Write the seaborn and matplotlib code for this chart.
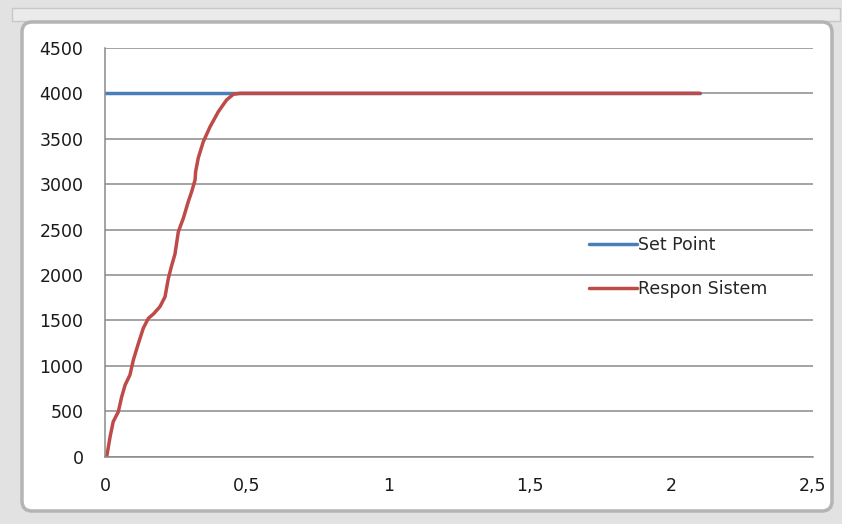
import matplotlib
matplotlib.use("Agg")
import matplotlib.pyplot as plt
from matplotlib.patches import FancyBboxPatch, Rectangle
from matplotlib.lines import Line2D
import pandas as pd
import seaborn as sns

# Step response of the control loop (time in seconds, value in rpm)
resp_time = [0.006, 0.018, 0.029, 0.047, 0.059, 0.071, 0.088, 0.100, 0.118, 0.135,
             0.153, 0.171, 0.194, 0.212, 0.2235, 0.235, 0.247, 0.259, 0.2765, 0.294,
             0.306, 0.318, 0.320, 0.329, 0.347, 0.371, 0.400, 0.429, 0.453, 0.476,
             1.0, 1.5, 2.1]
resp_value = [0, 220, 385, 495, 660, 789, 899, 1064, 1248, 1413,
              1523, 1571, 1651, 1761, 1960, 2100, 2230, 2477, 2624, 2807,
              2917, 3046, 3137, 3285, 3467, 3632, 3797, 3926, 3989, 4000,
              4000, 4000, 4000]

sp_time = [0.0, 2.1]
sp_value = [4000, 4000]

series_names = ["Set Point", "Respon Sistem"]
x_ticks = [0, 0.5, 1, 1.5, 2, 2.5]
x_tick_labels = ["0", "0,5", "1", "1,5", "2", "2,5"]
y_ticks = [0, 500, 1000, 1500, 2000, 2500, 3000, 3500, 4000, 4500]

df = pd.concat([
    pd.DataFrame({"t": sp_time, "v": sp_value, "series": series_names[0]}),
    pd.DataFrame({"t": resp_time, "v": resp_value, "series": series_names[1]}),
], ignore_index=True)

sns.set_style("white")
plt.rcParams["font.family"] = ["DejaVu Sans"]

W, H = 842, 524
fig = plt.figure(figsize=(W / 100, H / 100), dpi=100, facecolor="#e2e2e2")

# chart window frame
fig.patches.append(Rectangle((12 / W, 1 - 21 / H), 828 / W, 13 / H,
                             transform=fig.transFigure, facecolor="#ebebeb",
                             edgecolor="#c8c8c8", lw=1, zorder=-2))
fig.patches.append(FancyBboxPatch((22 / W, 1 - 511 / H), 810 / W, 489 / H,
                                  boxstyle="round,pad=0,rounding_size=0.012",
                                  transform=fig.transFigure, facecolor="white",
                                  edgecolor="#b4b4b4", lw=2.5, mutation_aspect=W / H,
                                  zorder=-1))

ax = fig.add_axes([105 / W, 1 - 456.7 / H, 708 / W, 408.8 / H])
ax.set_facecolor("none")

palette = {"Set Point": "#4a7ebb", "Respon Sistem": "#be4b48"}
sns.lineplot(data=df, x="t", y="v", hue="series", palette=palette,
             linewidth=2.5, ax=ax, sort=False, estimator=None, legend=False,
             solid_joinstyle="round", solid_capstyle="round")

ax.set_xlim(0, 2.5)
ax.set_ylim(0, 4500)
ax.set_xticks(x_ticks)
ax.set_xticklabels(x_tick_labels)
ax.set_yticks(y_ticks)
ax.set_yticklabels([str(v) for v in y_ticks])
ax.set_xlabel("")
ax.set_ylabel("")

ax.grid(axis="y", color="#8a8a8a", lw=1.1)
ax.grid(axis="x", visible=False)
ax.set_axisbelow(True)
for side in ("top", "right"):
    ax.spines[side].set_visible(False)
for side in ("left", "bottom"):
    ax.spines[side].set_color("#8a8a8a")
    ax.spines[side].set_linewidth(1.1)

ax.tick_params(axis="both", which="major", direction="out", length=5.5,
               width=1.1, color="#8a8a8a", labelsize=12.5, labelcolor="#1a1a1a")
ax.tick_params(axis="y", pad=10)
ax.tick_params(axis="x", pad=9)

handles = [Line2D([], [], color=palette[n], lw=2.5) for n in series_names]
ax.legend(handles, series_names, loc="center left",
          bbox_to_anchor=(589 / W, 1 - 267 / H), bbox_transform=fig.transFigure,
          frameon=False, fontsize=12.5, handlelength=2.75, handletextpad=0.1,
          labelspacing=1.45, borderpad=0, borderaxespad=0)

fig.savefig("out.png", dpi=100, facecolor=fig.get_facecolor())
